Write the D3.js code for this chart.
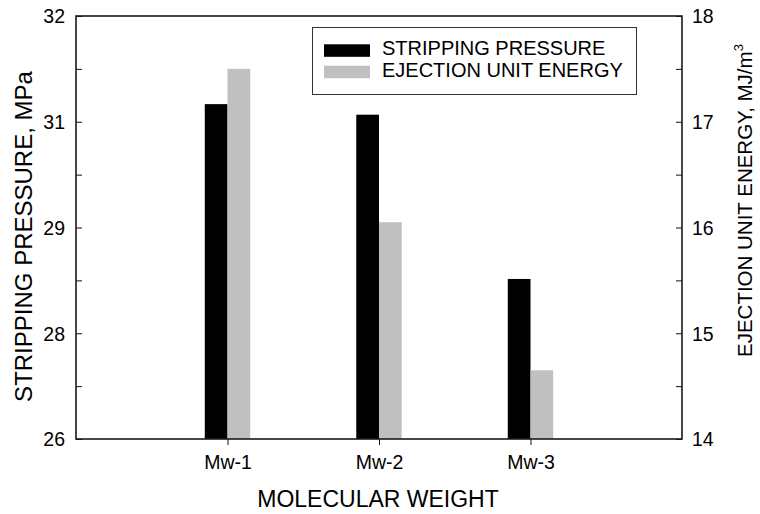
<!DOCTYPE html>
<html lang="en">
<head>
<meta charset="UTF-8">
<title>Stripping pressure and ejection unit energy</title>
<script src="https://d3js.org/d3.v7.min.js"></script>
<style>
  body { margin: 0; background: #fff; }
  text { font-family: "Liberation Sans", Arial, Helvetica, sans-serif; fill: #000; }
</style>
</head>
<body>
<svg width="760" height="514"></svg>
<script>
// data
var categories = ["Mw-1", "Mw-2", "Mw-3"];
var strippingPressure = [30.75, 30.6, 28.27];   // MPa, left axis
var ejectionEnergy = [17.5, 16.05, 14.65];      // MJ/m3, right axis

// axis ticks: every second tick has a label
var leftTicks = [26, 26.75, 27.5, 28.25, 29, 29.75, 30.5, 31.25, 32];
var leftTickLabels = ["26", "", "28", "", "29", "", "31", "", "32"];
var rightTicks = [14, 14.5, 15, 15.5, 16, 16.5, 17, 17.5, 18];
var rightTickLabels = ["14", "", "15", "", "16", "", "17", "", "18"];

var seriesNames = ["STRIPPING PRESSURE", "EJECTION UNIT ENERGY"];
var seriesColours = ["#000000", "#c0c0c0"];

var svg = d3.select("svg"),
    width = +svg.attr("width"),
    height = +svg.attr("height");

var margin = {top: 16, right: 78, bottom: 75, left: 76};
var plotW = width - margin.left - margin.right,
    plotH = height - margin.top - margin.bottom;

var g = svg.append("g").attr("transform", "translate(" + margin.left + "," + margin.top + ")");

// categories sit at 1, 2, 3 on a 0..4 axis
var x = d3.scaleLinear().domain([0, categories.length + 1]).range([0, plotW]);
var yLeft = d3.scaleLinear().domain([26, 32]).range([plotH, 0]);
var yRight = d3.scaleLinear().domain([14, 18]).range([plotH, 0]);
var barW = x(0.15) - x(0);

// black bars (left axis)
g.selectAll(".bar-sp")
  .data(strippingPressure)
  .enter().append("rect")
  .attr("class", "bar-sp")
  .attr("x", function(d, i) { return x(i + 1) - barW; })
  .attr("y", function(d) { return yLeft(d); })
  .attr("width", barW)
  .attr("height", function(d) { return plotH - yLeft(d); })
  .attr("fill", seriesColours[0]);

// grey bars (right axis)
g.selectAll(".bar-ee")
  .data(ejectionEnergy)
  .enter().append("rect")
  .attr("class", "bar-ee")
  .attr("x", function(d, i) { return x(i + 1); })
  .attr("y", function(d) { return yRight(d); })
  .attr("width", barW)
  .attr("height", function(d) { return plotH - yRight(d); })
  .attr("fill", seriesColours[1]);

// left axis, ticks pointing inward
var leftAxis = d3.axisLeft(yLeft)
  .tickValues(leftTicks)
  .tickSizeInner(-6).tickSizeOuter(0)
  .tickPadding(11)
  .tickFormat(function(d, i) { return leftTickLabels[i]; });
var la = g.append("g").call(leftAxis);

// right axis, ticks pointing inward
var rightAxis = d3.axisRight(yRight)
  .tickValues(rightTicks)
  .tickSizeInner(-6).tickSizeOuter(0)
  .tickPadding(10)
  .tickFormat(function(d, i) { return rightTickLabels[i]; });
var ra = g.append("g").attr("transform", "translate(" + plotW + ",0)").call(rightAxis);

// bottom axis, ticks pointing outward
var bottomAxis = d3.axisBottom(x)
  .tickValues([1, 2, 3])
  .tickSizeInner(6).tickSizeOuter(0)
  .tickPadding(10)
  .tickFormat(function(d) { return categories[d - 1]; });
var ba = g.append("g").attr("transform", "translate(0," + plotH + ")").call(bottomAxis);

[la, ra, ba].forEach(function(a) {
  a.select(".domain").remove();
  a.selectAll("line").attr("stroke", "#111").attr("stroke-width", 1);
  a.selectAll("text").attr("font-size", "19.5px").attr("fill", "#000");
});
la.selectAll("text").attr("dy", "0.35em");
ra.selectAll("text").attr("dy", "0.35em");
ba.selectAll("text").attr("dy", "0.71em");

// frame
g.append("rect")
  .attr("width", plotW).attr("height", plotH)
  .attr("fill", "none").attr("stroke", "#1a1a1a").attr("stroke-width", 1.6);

// axis titles
svg.append("text")
  .attr("transform", "translate(32," + (margin.top + plotH / 2 + 9) + ") rotate(-90)")
  .attr("text-anchor", "middle")
  .attr("font-size", "24px")
  .text("STRIPPING PRESSURE, MPa");

var rt = svg.append("text")
  .attr("transform", "translate(752,357) rotate(-90)")
  .attr("text-anchor", "start")
  .attr("font-size", "20.5px")
  .text("EJECTION UNIT ENERGY, MJ/m");
rt.append("tspan").attr("dy", "-0.7em").attr("font-size", "13px").text("3");

svg.append("text")
  .attr("x", margin.left + plotW / 2 - 1)
  .attr("y", 507)
  .attr("text-anchor", "middle")
  .attr("font-size", "23px")
  .text("MOLECULAR WEIGHT");

// legend
var legend = svg.append("g");
legend.append("rect")
  .attr("x", 312.5).attr("y", 27.5).attr("width", 324).attr("height", 67)
  .attr("fill", "#fff").attr("stroke", "#333").attr("stroke-width", 1);

var items = legend.selectAll(".item")
  .data(seriesNames)
  .enter().append("g")
  .attr("class", "item")
  .attr("transform", function(d, i) { return "translate(324," + (44.3 + i * 21.4) + ")"; });
items.append("rect")
  .attr("width", 46).attr("height", 12.5)
  .attr("fill", function(d, i) { return seriesColours[i]; });
items.append("text")
  .attr("x", 58).attr("y", 11)
  .attr("font-size", "20px")
  .text(function(d) { return d; });
</script>
</body>
</html>
